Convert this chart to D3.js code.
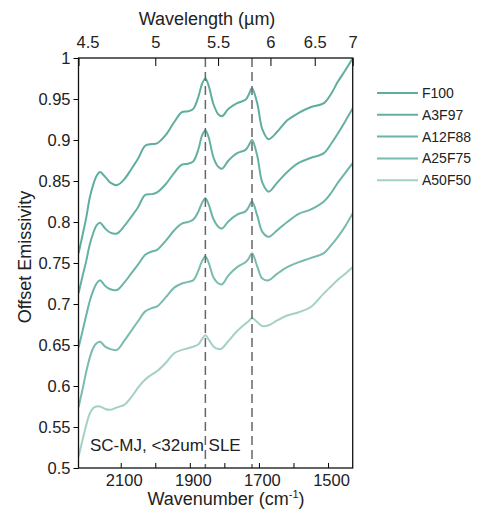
<!DOCTYPE html>
<html>
<head>
<meta charset="utf-8">
<script src="https://cdn.jsdelivr.net/npm/d3@7"></script>
<style>
    body { margin: 0; background: #fff; }
    text { font-family: "Liberation Sans", Arial, Helvetica, sans-serif; fill: #222; }
</style>
</head>
<body>
<div id="chartDiv"></div>
<script>
// wavenumber grid (cm-1) shared by all spectra
const wavenumbers = [2222, 2210, 2200, 2190, 2180, 2170, 2160, 2145, 2130, 2111, 2090, 2070, 2050, 2029, 2010,
    1995, 1970, 1945, 1923, 1905, 1890, 1875, 1865, 1855, 1846, 1831, 1817, 1807, 1788, 1763, 1739, 1730,
    1720, 1705, 1690, 1672, 1647, 1618, 1585, 1551, 1512, 1490, 1473, 1450, 1428];

const seriesNames = ['F100', 'A3F97', 'A12F88', 'A25F75', 'A50F50'];
const seriesColors = ['#5eae9f', '#64b1a3', '#6bb4a8', '#79bbaf', '#a3d0c7'];

const f100 = [0.762, 0.785, 0.805, 0.829, 0.845, 0.856, 0.861, 0.855, 0.848, 0.845, 0.852, 0.864, 0.877, 0.893, 0.895,
    0.896, 0.906, 0.922, 0.934, 0.935, 0.938, 0.953, 0.968, 0.975, 0.967, 0.943, 0.931, 0.929, 0.938, 0.945, 0.949, 0.955,
    0.963, 0.945, 0.913, 0.901, 0.910, 0.924, 0.933, 0.940, 0.945, 0.957, 0.970, 0.985, 1.000];
const a3f97 = [0.713, 0.735, 0.752, 0.772, 0.786, 0.796, 0.799, 0.792, 0.787, 0.786, 0.795, 0.806, 0.818, 0.833, 0.834,
    0.836, 0.846, 0.860, 0.870, 0.871, 0.874, 0.889, 0.905, 0.912, 0.904, 0.878, 0.867, 0.865, 0.875, 0.884, 0.888, 0.893,
    0.900, 0.881, 0.848, 0.837, 0.848, 0.861, 0.872, 0.878, 0.884, 0.896, 0.907, 0.923, 0.939];
const a12f88 = [0.647, 0.668, 0.686, 0.703, 0.716, 0.725, 0.729, 0.722, 0.718, 0.717, 0.726, 0.737, 0.748, 0.760, 0.764,
    0.766, 0.777, 0.790, 0.798, 0.800, 0.803, 0.813, 0.823, 0.829, 0.822, 0.803, 0.794, 0.792, 0.801, 0.809, 0.813, 0.818,
    0.825, 0.808, 0.788, 0.782, 0.790, 0.800, 0.810, 0.815, 0.825, 0.836, 0.847, 0.860, 0.872];
const a25f75 = [0.574, 0.597, 0.617, 0.634, 0.646, 0.652, 0.654, 0.648, 0.645, 0.644, 0.655, 0.667, 0.679, 0.691, 0.695,
    0.697, 0.708, 0.720, 0.725, 0.727, 0.729, 0.741, 0.752, 0.758, 0.751, 0.732, 0.725, 0.724, 0.735, 0.745, 0.751, 0.755,
    0.762, 0.746, 0.731, 0.729, 0.737, 0.745, 0.751, 0.756, 0.762, 0.772, 0.781, 0.795, 0.811];
const a50f50 = [0.514, 0.535, 0.552, 0.566, 0.573, 0.575, 0.575, 0.572, 0.571, 0.574, 0.577, 0.586, 0.598, 0.608, 0.614,
    0.618, 0.628, 0.640, 0.644, 0.646, 0.648, 0.651, 0.657, 0.662, 0.657, 0.648, 0.645, 0.646, 0.655, 0.667, 0.676, 0.679,
    0.683, 0.678, 0.673, 0.674, 0.680, 0.686, 0.690, 0.696, 0.713, 0.722, 0.729, 0.737, 0.745];

const seriesValues = [f100, a3f97, a12f88, a25f75, a50f50];

// reference band positions (cm-1)
const bandLines = [1855, 1720];

const bottomTicks = [2100, 2000, 1900, 1800, 1700, 1600, 1500];
const bottomLabels = [2100, 1900, 1700, 1500];
const topTicks = [4.5, 5, 5.5, 6, 6.5, 7];
const yTicks = [0.5, 0.55, 0.6, 0.65, 0.7, 0.75, 0.8, 0.85, 0.9, 0.95, 1];

const annotation = 'SC-MJ, <32um SLE';

const width = 482, height = 510;
const plot = {left: 78.5, right: 352.7, top: 58, bottom: 468};

const svg = d3.select('#chartDiv')
    .append('svg')
    .attr('width', width)
    .attr('height', height);

const x = d3.scaleLinear()
    .domain([10000 / 4.5, 10000 / 7])
    .range([plot.left, plot.right]);

const y = d3.scaleLinear()
    .domain([0.5, 1])
    .range([plot.bottom, plot.top]);

svg.append('clipPath')
    .attr('id', 'plotClip')
    .append('rect')
    .attr('x', plot.left)
    .attr('y', plot.top)
    .attr('width', plot.right - plot.left)
    .attr('height', plot.bottom - plot.top);

// spectra
const line = d3.line()
    .x(function(d) { return x(d[0]); })
    .y(function(d) { return y(d[1]); })
    .curve(d3.curveCatmullRom.alpha(0.5));

const spectra = svg.append('g').attr('clip-path', 'url(#plotClip)');
seriesValues.forEach(function(vals, i) {
    spectra.append('path')
        .attr('d', line(wavenumbers.map(function(w, j) { return [w, vals[j]]; })))
        .attr('fill', 'none')
        .attr('stroke', seriesColors[i])
        .attr('stroke-width', 2)
        .attr('stroke-linejoin', 'round');
});

// dashed band markers
svg.selectAll('.band')
    .data(bandLines).enter()
    .append('line')
    .attr('x1', function(d) { return x(d); })
    .attr('x2', function(d) { return x(d); })
    .attr('y1', plot.top)
    .attr('y2', plot.bottom)
    .attr('stroke', '#666')
    .attr('stroke-width', 1.5)
    .attr('stroke-dasharray', '9,5');

// bottom axis (wavenumber), ticks pointing inward
const bottomAxis = d3.axisBottom(x)
    .tickValues(bottomTicks)
    .tickSize(-5)
    .tickPadding(6)
    .tickFormat(function(d) { return bottomLabels.includes(d) ? d : ''; });

const gb = svg.append('g')
    .attr('transform', 'translate(0,' + plot.bottom + ')')
    .call(bottomAxis);
gb.select('.domain').remove();
gb.selectAll('text').attr('dx', 3).style('font-size', '16.5px').attr('fill', '#222');

// top axis (wavelength)
const topAxis = d3.axisTop(x)
    .tickValues(topTicks.map(function(l) { return 10000 / l; }))
    .tickSize(-8)
    .tickPadding(10)
    .tickFormat(function(d) { return +(10000 / d).toFixed(1); });

const gt = svg.append('g')
    .attr('transform', 'translate(0,' + plot.top + ')')
    .call(topAxis);
gt.select('.domain').remove();
gt.selectAll('text').style('font-size', '16.5px').attr('fill', '#222')
    .attr('dx', function(d, i) { return i === 0 ? 9 : 0; });

// left axis
const leftAxis = d3.axisLeft(y)
    .tickValues(yTicks)
    .tickSize(5)
    .tickPadding(3)
    .tickFormat(function(d) { return +d.toFixed(2); });

const gl = svg.append('g')
    .attr('transform', 'translate(' + plot.left + ',0)')
    .call(leftAxis);
gl.select('.domain').remove();
gl.selectAll('text').style('font-size', '16.5px').attr('fill', '#222');

// frame
svg.append('rect')
    .attr('x', plot.left)
    .attr('y', plot.top)
    .attr('width', plot.right - plot.left)
    .attr('height', plot.bottom - plot.top)
    .attr('fill', 'none')
    .attr('stroke', '#111')
    .attr('stroke-width', 1.3);

// axis titles
svg.append('text')
    .attr('x', 207)
    .attr('y', 25)
    .attr('text-anchor', 'middle')
    .style('font-size', '18px')
    .text('Wavelength (\u00b5m)');

const xTitle = svg.append('text')
    .attr('x', 226)
    .attr('y', 505)
    .attr('text-anchor', 'middle')
    .style('font-size', '18px');
xTitle.append('tspan').text('Wavenumber (cm');
xTitle.append('tspan').attr('dy', -7).style('font-size', '11px').text('-1');
xTitle.append('tspan').attr('dy', 7).text(')');

svg.append('text')
    .attr('transform', 'translate(31,257)rotate(-90)')
    .attr('text-anchor', 'middle')
    .style('font-size', '18px')
    .text('Offset Emissivity');

// sample annotation
svg.append('text')
    .attr('x', 90)
    .attr('y', 451)
    .style('font-size', '17px')
    .text(annotation);

// legend
const legend = svg.append('g').attr('transform', 'translate(377,93)');
seriesNames.forEach(function(name, i) {
    const row = legend.append('g').attr('transform', 'translate(0,' + (i * 21.8) + ')');
    row.append('line')
        .attr('x1', 0).attr('x2', 41)
        .attr('stroke', seriesColors[i])
        .attr('stroke-width', 2);
    row.append('text')
        .attr('x', 45)
        .attr('dy', '0.36em')
        .style('font-size', '14px')
        .text(name);
});
</script>
</body>
</html>
